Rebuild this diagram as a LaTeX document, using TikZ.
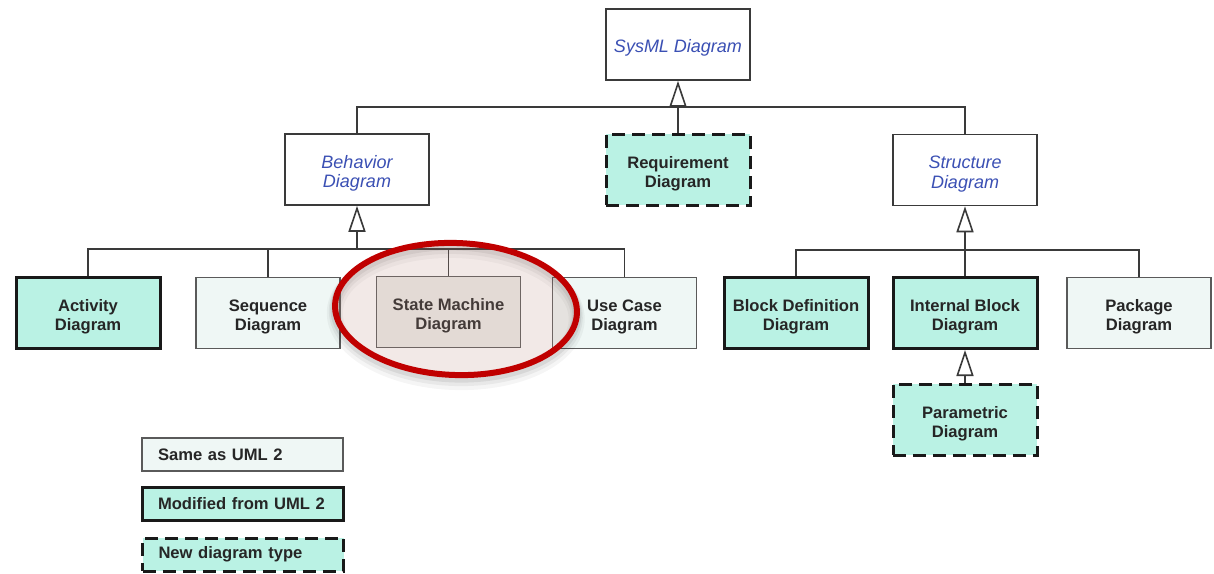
\documentclass[tikz,border=0pt]{standalone}
\usepackage{fontspec}
\setmainfont{Liberation Sans}
\usetikzlibrary{arrows.meta}
\definecolor{teal1}{HTML}{BAF2E4}
\definecolor{pale}{HTML}{EFF7F5}
\definecolor{smgray}{HTML}{EDEDE9}
\definecolor{edge}{HTML}{3A3A3A}
\definecolor{thin}{HTML}{5A5A5A}
\definecolor{bluetxt}{HTML}{3B50B4}
\definecolor{ringred}{HTML}{C00000}
\definecolor{ringfill}{HTML}{BE9187}
% a tall strut on the first line sets the label a little below the box centre
\newcommand{\lowtxt}{\rule{0pt}{20.5pt}}
\tikzset{
  x=1pt, y=-1pt,
  box/.style={rectangle, minimum width=144pt, minimum height=71pt, inner sep=0pt,
    align=center, font=\fontsize{16.6}{19}\selectfont\bfseries, text=black!85},
  abstractbox/.style={box, draw=edge, line width=1.6pt, fill=white,
    font=\fontsize{18}{19.5}\selectfont\itshape, text=bluetxt},
  samebox/.style={box, draw=thin, line width=1.4pt, fill=pale},
  modbox/.style={box, draw=black!90, line width=3pt, fill=teal1},
  newbox/.style={box, draw=black!90, line width=3pt, fill=teal1, dash pattern=on 13pt off 7pt},
  legend/.style={minimum width=201pt, minimum height=33pt, text width=169pt,
    inner xsep=16pt, align=left},
  link/.style={draw=edge, line width=1.8pt},
  gen/.style={link, -{Triangle[open, width=17pt, length=26pt, line width=1.6pt]}},
}
\begin{document}
\begin{tikzpicture}
\useasboundingbox (0,0) rectangle (1214,573);
\fill[white] (0,0) rectangle (1214,573);

% abstract diagram kinds
\node[abstractbox] (sysml)  at (678,44.5) {\lowtxt SysML Diagram};
\node[abstractbox] (behav)  at (357,169.5) {\lowtxt Behavior\\Diagram};
\node[abstractbox] (struct) at (965,170) {\lowtxt Structure\\Diagram};
\node[newbox]      (req)    at (678,169.5) {\lowtxt Requirement\\Diagram};

% behaviour diagrams
\node[modbox]  (act) at (88,313)    {\lowtxt Activity\\Diagram};
\node[samebox] (seq) at (268,313)   {\lowtxt Sequence\\Diagram};
\node[samebox, fill=smgray] (sm) at (448.5,312) {\lowtxt State Machine\\Diagram};
\node[samebox] (uc)  at (624.5,313) {\lowtxt Use Case\\Diagram};

% structure diagrams
\node[modbox]  (bdd) at (796,313)  {\lowtxt Block Definition\\Diagram};
\node[modbox]  (ibd) at (965,313)  {\lowtxt Internal Block\\Diagram};
\node[samebox] (pkg) at (1139,313) {\lowtxt Package\\Diagram};
\node[newbox]  (par) at (965,419.5) {\lowtxt Parametric\\Diagram};

% junction points of the generalisation trees
\coordinate (j1) at (678,107);
\coordinate (j2) at (357,249);
\coordinate (j3) at (965,250);

\draw[link] (behav.north) |- (j1);
\draw[link] (struct.north) |- (j1);
\draw[link] (req.north) -- (j1);
\draw[gen] (j1) -- (sysml.south);

\draw[link] (act.north) |- (j2);
\draw[link] (seq.north) |- (j2);
\draw[link] (sm.north) |- (j2);
\draw[link] (uc.north) |- (j2);
\draw[gen] (j2) -- (behav.south);

\draw[link] (bdd.north) |- (j3);
\draw[link] (pkg.north) |- (j3);
\draw[link] (ibd.north) -- (j3);
\draw[gen] (j3) -- (struct.south);

\draw[gen] (par.north) -- (ibd.south);

% key
\node[samebox, legend] (lsame) at (242.5,454.5) {Same as UML 2};
\node[modbox, legend]  (lmod)  at (242.5,504)   {Modified from UML 2};
\node[newbox, legend]  (lnew)  at (243,554.5)   {New diagram type};

% highlight ring round the state machine diagram, with a soft shadow below it
\foreach \o/\w/\a in {7/16/0.04,5/12/0.05,3/9/0.07}
  \draw[black, opacity=\a, line width=\w pt, rotate around={-2:(456,309)}]
    (456,309+\o) ellipse [x radius=121, y radius=66];
\draw[ringred, line width=6pt, fill=ringfill, fill opacity=0.2, rotate around={-2:(456,309)}]
  (456,309) ellipse [x radius=121, y radius=66];
\end{tikzpicture}
\end{document}
